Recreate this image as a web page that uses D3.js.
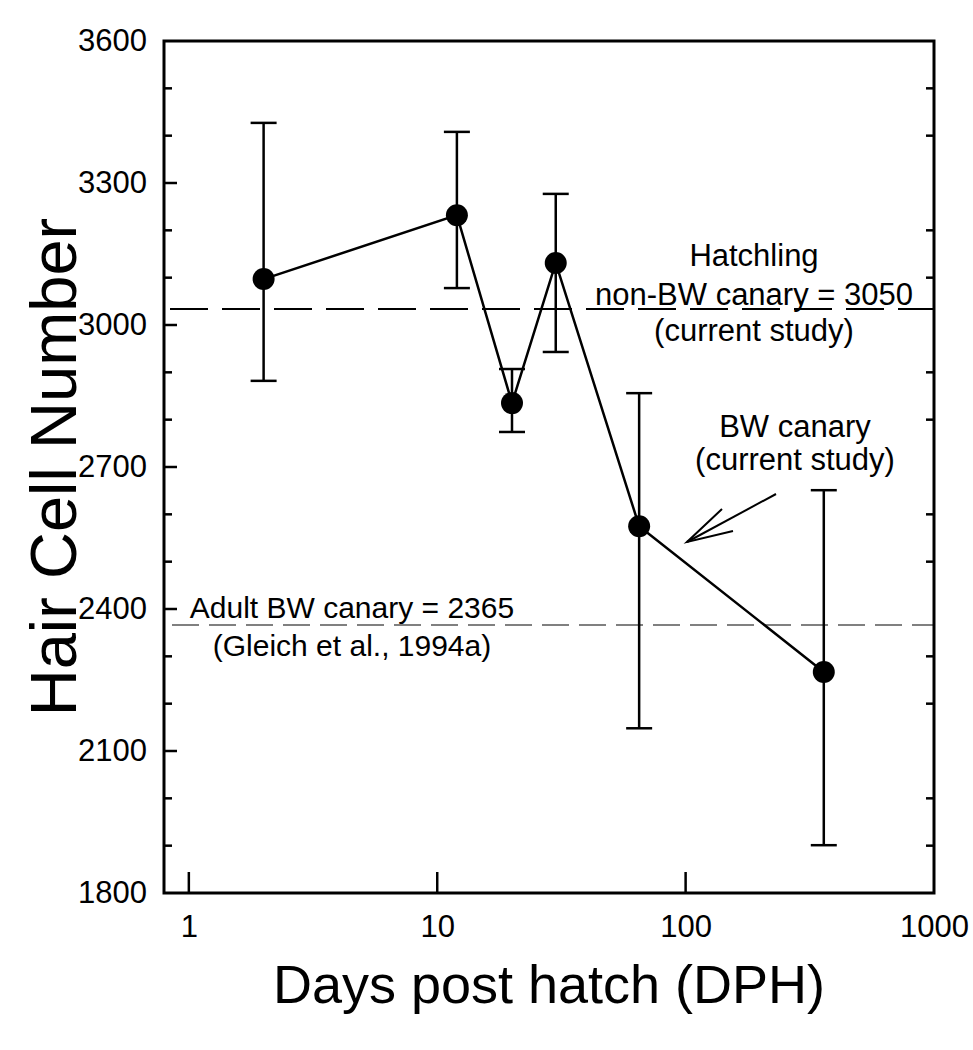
<!DOCTYPE html>
<html><head><meta charset="utf-8">
<script src="https://cdn.jsdelivr.net/npm/d3@7/dist/d3.min.js"></script>
<style>
html,body{margin:0;padding:0;background:#fff;}
svg text{font-family:"Liberation Sans",Arial,sans-serif;fill:#000;}
</style></head>
<body><svg id="chart" width="973" height="1050"></svg>
<script>
// ---- data ----
const days = [2, 12, 20, 30, 65, 360];
const hairCells = [3097, 3232, 2835, 3131, 2575, 2267];
const errUpper = [3427, 3408, 2907, 3277, 2856, 2651];
const errLower = [2882, 3078, 2774, 2943, 2148, 1901];
const xTicks = [1, 10, 100, 1000];
const yMajorTicks = [1800, 2100, 2400, 2700, 3000, 3300, 3600];
const yMinorTicks = [1900, 2000, 2200, 2300, 2500, 2600, 2800, 2900, 3100, 3200, 3400, 3500];
const hatchlingRef = 3034;
const adultRef = 2366;
const hatchlingLabel = ["Hatchling", "non-BW canary = 3050", "(current study)"];
const adultLabel = ["Adult BW canary = 2365", "(Gleich et al., 1994a)"];
const bwLabel = ["BW canary", "(current study)"];

// ---- layout ----
const L = 164, R = 934, T = 41, B = 893;
const svg = d3.select("#chart");
const x = d3.scaleLog().domain([Math.pow(10, -0.1), 1000]).range([L, R]);
const y = d3.scaleLinear().domain([1800, 3600]).range([B, T]);

// reference dashed lines
svg.append("line").attr("x1", L).attr("x2", R)
  .attr("y1", y(hatchlingRef)).attr("y2", y(hatchlingRef))
  .attr("stroke", "#000").attr("stroke-width", 2).attr("stroke-dasharray", "38,14")
  .attr("stroke-dashoffset", -6);
svg.append("line").attr("x1", L).attr("x2", R)
  .attr("y1", y(adultRef)).attr("y2", y(adultRef))
  .attr("stroke", "#808080").attr("stroke-width", 2).attr("stroke-dasharray", "27,10")
  .attr("stroke-dashoffset", -8);

// axes
const fs = "31px";
const leftAxis = d3.axisLeft(y).tickValues(yMajorTicks).tickFormat(d3.format("d")).tickSize(0).tickPadding(17);
const gL = svg.append("g").attr("transform", `translate(${L},0)`).call(leftAxis);
gL.attr("font-size", null).attr("font-family", null);
gL.select(".domain").remove();
gL.selectAll("text").style("font-size", fs);
// left ticks (inward)
svg.append("g").selectAll("line").data(yMajorTicks.filter(v => v > 1800 && v < 3600)).join("line")
  .attr("x1", L).attr("x2", L + 13).attr("y1", d => y(d)).attr("y2", d => y(d))
  .attr("stroke", "#000").attr("stroke-width", 2.5);
svg.append("g").selectAll("line").data(yMinorTicks).join("line")
  .attr("x1", L).attr("x2", L + 8).attr("y1", d => y(d)).attr("y2", d => y(d))
  .attr("stroke", "#000").attr("stroke-width", 2.5);
// right minor ticks (inward)
svg.append("g").selectAll("line").data(yMinorTicks).join("line")
  .attr("x1", R).attr("x2", R - 8).attr("y1", d => y(d)).attr("y2", d => y(d))
  .attr("stroke", "#000").attr("stroke-width", 2.5);

const bottomAxis = d3.axisBottom(x).tickValues(xTicks).tickFormat(d3.format("d")).tickSize(0).tickPadding(22);
const gB = svg.append("g").attr("transform", `translate(0,${B})`).call(bottomAxis);
gB.attr("font-size", null).attr("font-family", null);
gB.select(".domain").remove();
gB.selectAll("text").style("font-size", fs);
svg.append("g").selectAll("line").data(xTicks.filter(v => v < 1000)).join("line")
  .attr("x1", d => x(d)).attr("x2", d => x(d)).attr("y1", B).attr("y2", B - 21)
  .attr("stroke", "#000").attr("stroke-width", 2.5);

// frame
svg.append("rect").attr("x", L).attr("y", T).attr("width", R - L).attr("height", B - T)
  .attr("fill", "none").attr("stroke", "#000").attr("stroke-width", 3);

// error bars
const pts = days.map((d, i) => ({d, v: hairCells[i], hi: errUpper[i], lo: errLower[i]}));
const eb = svg.append("g").attr("stroke", "#000").attr("stroke-width", 2.5);
pts.forEach(p => {
  eb.append("line").attr("x1", x(p.d)).attr("x2", x(p.d)).attr("y1", y(p.hi)).attr("y2", y(p.lo));
  [p.hi, p.lo].forEach(v => eb.append("line").attr("x1", x(p.d) - 13).attr("x2", x(p.d) + 13)
    .attr("y1", y(v)).attr("y2", y(v)));
});

// connecting line
svg.append("path").datum(pts)
  .attr("d", d3.line().x(p => x(p.d)).y(p => y(p.v)))
  .attr("fill", "none").attr("stroke", "#000").attr("stroke-width", 2.5);

// markers
svg.append("g").selectAll("circle").data(pts).join("circle")
  .attr("cx", p => x(p.d)).attr("cy", p => y(p.v)).attr("r", 11).attr("fill", "#000");

// annotations
const ann = (lines, cx, baselines, size) => {
  lines.forEach((t, i) => svg.append("text").attr("x", cx).attr("y", baselines[i])
    .attr("text-anchor", "middle").style("font-size", size + "px").text(t));
};
ann(hatchlingLabel, 754, [266, 305, 341], 31);
ann(adultLabel, 352, [618, 656], 30);
ann(bwLabel, 795, [437, 470], 31);

// arrow
const arrow = svg.append("g").attr("stroke", "#000").attr("stroke-width", 2).attr("fill", "none");
arrow.append("line").attr("x1", 776).attr("y1", 494).attr("x2", 687).attr("y2", 542);
arrow.append("polyline").attr("points", "722,509 687,542 733,531");

// axis titles
svg.append("text").attr("x", (L + R) / 2).attr("y", 1003).attr("text-anchor", "middle")
  .style("font-size", "54px").text("Days post hatch (DPH)");
svg.append("text").attr("transform", `translate(76,${(T + B) / 2}) rotate(-90)`)
  .attr("text-anchor", "middle").style("font-size", "65px").text("Hair Cell Number");
</script></body></html>
